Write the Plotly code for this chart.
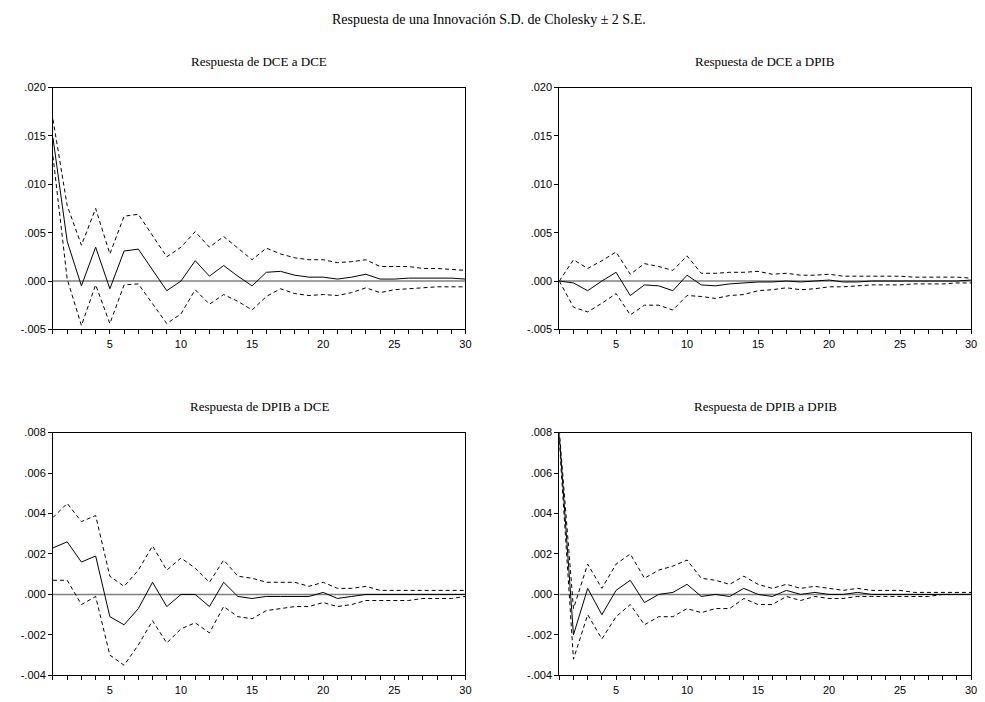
import plotly.graph_objects as go

periods = list(range(1, 31))

main_title = "Respuesta de una Innovación S.D. de Cholesky ± 2 S.E."
panel_titles = ["Respuesta de DCE a DCE", "Respuesta de DCE a DPIB",
                "Respuesta de DPIB a DCE", "Respuesta de DPIB a DPIB"]

# Panel 1: DCE a DCE
dce_dce = [0.0148, 0.0041, -0.0005, 0.0035, -0.0008, 0.0031, 0.0033, 0.0011, -0.0010, 0.0000,
           0.0021, 0.0005, 0.0016, 0.0005, -0.0005, 0.0009, 0.0010, 0.0006, 0.0004, 0.0004,
           0.0002, 0.0004, 0.0007, 0.0002, 0.0002, 0.0003, 0.0003, 0.0003, 0.0003, 0.0002]
dce_dce_up = [0.0167, 0.0078, 0.0037, 0.0075, 0.0028, 0.0067, 0.0069, 0.0047, 0.0025, 0.0035,
              0.0051, 0.0035, 0.0046, 0.0034, 0.0022, 0.0034, 0.0028, 0.0024, 0.0022, 0.0022,
              0.0019, 0.0020, 0.0022, 0.0015, 0.0015, 0.0015, 0.0013, 0.0013, 0.0012, 0.0011]
dce_dce_lo = [0.0129, 0.0002, -0.0046, -0.0004, -0.0044, -0.0004, -0.0003, -0.0024, -0.0044, -0.0034,
              -0.0009, -0.0024, -0.0014, -0.0021, -0.0030, -0.0016, -0.0008, -0.0013, -0.0015, -0.0014,
              -0.0015, -0.0012, -0.0007, -0.0012, -0.0009, -0.0008, -0.0007, -0.0006, -0.0006, -0.0006]

# Panel 2: DCE a DPIB
dce_dpib = [0.0000, -0.0002, -0.0010, 0.0000, 0.0009, -0.0015, -0.0004, -0.0005, -0.0010, 0.0006,
            -0.0004, -0.0005, -0.0003, -0.0002, -0.0001, -0.0001, 0.0000, -0.0001, 0.0000, 0.0001,
            -0.0001, -0.0001, 0.0000, 0.0000, 0.0000, 0.0000, 0.0000, 0.0000, 0.0000, 0.0001]
dce_dpib_up = [0.0000, 0.0022, 0.0013, 0.0021, 0.0030, 0.0007, 0.0018, 0.0015, 0.0011, 0.0026,
               0.0008, 0.0008, 0.0009, 0.0009, 0.0010, 0.0007, 0.0008, 0.0006, 0.0006, 0.0007,
               0.0005, 0.0005, 0.0005, 0.0005, 0.0005, 0.0004, 0.0004, 0.0004, 0.0004, 0.0003]
dce_dpib_lo = [0.0000, -0.0027, -0.0032, -0.0023, -0.0013, -0.0035, -0.0025, -0.0025, -0.0030, -0.0015,
               -0.0016, -0.0018, -0.0015, -0.0014, -0.0010, -0.0009, -0.0007, -0.0009, -0.0008, -0.0006,
               -0.0006, -0.0005, -0.0004, -0.0004, -0.0004, -0.0003, -0.0003, -0.0003, -0.0002, -0.0002]

# Panel 3: DPIB a DCE
dpib_dce = [0.0023, 0.0026, 0.0016, 0.0019, -0.0011, -0.0015, -0.0007, 0.0006, -0.0006, 0.0000,
            0.0000, -0.0006, 0.0006, -0.0001, -0.0002, -0.0001, -0.0001, -0.0001, -0.0001, 0.0001,
            -0.0002, -0.0001, 0.0000, 0.0000, 0.0000, 0.0000, 0.0000, 0.0000, 0.0000, 0.0000]
dpib_dce_up = [0.0038, 0.0045, 0.0036, 0.0039, 0.0009, 0.0004, 0.0012, 0.0024, 0.0012, 0.0018,
               0.0013, 0.0006, 0.0017, 0.0009, 0.0008, 0.0006, 0.0006, 0.0006, 0.0004, 0.0006,
               0.0003, 0.0003, 0.0004, 0.0002, 0.0002, 0.0002, 0.0002, 0.0002, 0.0002, 0.0002]
dpib_dce_lo = [0.0007, 0.0007, -0.0005, -0.0001, -0.0030, -0.0035, -0.0025, -0.0013, -0.0024, -0.0017,
               -0.0014, -0.0019, -0.0006, -0.0011, -0.0012, -0.0008, -0.0007, -0.0006, -0.0006, -0.0004,
               -0.0006, -0.0005, -0.0003, -0.0003, -0.0003, -0.0003, -0.0002, -0.0002, -0.0002, -0.0001]

# Panel 4: DPIB a DPIB
dpib_dpib = [0.0079, -0.0020, 0.0003, -0.0010, 0.0002, 0.0007, -0.0004, 0.0000, 0.0001, 0.0005,
             -0.0001, 0.0000, -0.0001, 0.0003, 0.0000, -0.0001, 0.0002, 0.0000, 0.0001, 0.0000,
             0.0000, 0.0001, 0.0000, 0.0000, 0.0000, 0.0000, 0.0000, 0.0000, 0.0000, 0.0000]
dpib_dpib_up = [0.0081, -0.0007, 0.0015, 0.0003, 0.0015, 0.0020, 0.0008, 0.0012, 0.0014, 0.0017,
                0.0008, 0.0007, 0.0005, 0.0009, 0.0005, 0.0003, 0.0005, 0.0003, 0.0004, 0.0003,
                0.0002, 0.0003, 0.0002, 0.0002, 0.0002, 0.0001, 0.0001, 0.0001, 0.0001, 0.0001]
dpib_dpib_lo = [0.0076, -0.0032, -0.0010, -0.0022, -0.0011, -0.0005, -0.0015, -0.0011, -0.0011, -0.0007,
                -0.0009, -0.0007, -0.0007, -0.0002, -0.0005, -0.0005, -0.0001, -0.0003, -0.0001, -0.0002,
                -0.0002, -0.0001, -0.0001, -0.0001, -0.0001, -0.0001, -0.0001, 0.0000, 0.0000, 0.0000]

top_yticks = [-0.005, 0.000, 0.005, 0.010, 0.015, 0.020]
top_ylabels = ["-.005", ".000", ".005", ".010", ".015", ".020"]
bot_yticks = [-0.004, -0.002, 0.000, 0.002, 0.004, 0.006, 0.008]
bot_ylabels = ["-.004", ".002".replace(".002", "-.002"), ".000", ".002", ".004", ".006", ".008"]
xticks = [5, 10, 15, 20, 25, 30]
xlabels = ["5", "10", "15", "20", "25", "30"]

W, H = 985, 702
# pixel boxes of the panels
boxes = [(53.3, 468.3, 83, 329), (562.7, 977, 83, 329),
         (53.3, 468.3, 434, 681), (562.7, 977, 434, 681)]
panels = [(dce_dce, dce_dce_up, dce_dce_lo, top_yticks, top_ylabels),
          (dce_dpib, dce_dpib_up, dce_dpib_lo, top_yticks, top_ylabels),
          (dpib_dce, dpib_dce_up, dpib_dce_lo, bot_yticks, bot_ylabels),
          (dpib_dpib, dpib_dpib_up, dpib_dpib_lo, bot_yticks, bot_ylabels)]

fig = go.Figure()
tickfont = dict(family="Liberation Sans, Arial, sans-serif", size=11, color="#000000")
serif = "Liberation Serif, Times New Roman, serif"
annotations = []
shapes = []
for i, ((resp, up, lo, yt, yl), (x0, x1, y0, y1)) in enumerate(zip(panels, boxes)):
    n = i + 1
    xa = "x" if n == 1 else f"x{n}"
    ya = "y" if n == 1 else f"y{n}"
    for series, dash in ((up, "4px,3px"), (lo, "4px,3px"), (resp, "solid")):
        fig.add_trace(go.Scatter(x=periods, y=series, mode="lines",
                                 line=dict(color="#000000", width=1, dash=dash),
                                 xaxis=xa, yaxis=ya, showlegend=False, hoverinfo="skip"))
    xkey = "xaxis" if n == 1 else f"xaxis{n}"
    ykey = "yaxis" if n == 1 else f"yaxis{n}"
    fig.update_layout(**{
        xkey: dict(domain=[x0 / W, x1 / W], anchor=ya, range=[1, 30],
                   tickvals=xticks, ticktext=xlabels, ticks="outside", ticklen=4,
                   tickcolor="#000000", tickwidth=1,
                   minor=dict(dtick=1, tick0=0, ticks="outside", ticklen=4,
                              tickcolor="#000000", tickwidth=1),
                   showline=True, linecolor="#000000", linewidth=1, mirror=True,
                   showgrid=False, zeroline=False, tickfont=tickfont),
        ykey: dict(domain=[1 - y1 / H, 1 - y0 / H], anchor=xa, range=[yt[0], yt[-1]],
                   tickvals=yt, ticktext=yl, ticks="outside", ticklen=4,
                   tickcolor="#000000", tickwidth=1,
                   showline=True, linecolor="#000000", linewidth=1, mirror=True,
                   showgrid=False, zeroline=False, tickfont=tickfont),
    })
    shapes.append(dict(type="line", xref=f"{xa} domain", yref=ya, x0=0, x1=1, y0=0, y1=0,
                       line=dict(color="#808080", width=1.5), layer="below"))
    annotations.append(dict(text=panel_titles[i], xref="paper", yref="paper",
                            x=(x0 + x1) / 2 / W, y=1 - (y0 - 27) / H,
                            xanchor="center", yanchor="middle", showarrow=False,
                            font=dict(family=serif, size=13, color="#000000")))

annotations.append(dict(text=main_title, xref="paper", yref="paper",
                        x=492 / W, y=1 - 14 / H, xanchor="center", yanchor="middle",
                        showarrow=False, font=dict(family=serif, size=14, color="#000000")))

fig.update_layout(width=W, height=H, margin=dict(l=0, r=0, t=0, b=0),
                  paper_bgcolor="#ffffff", plot_bgcolor="#ffffff",
                  annotations=annotations, shapes=shapes, showlegend=False)

fig.write_html("out.html")
